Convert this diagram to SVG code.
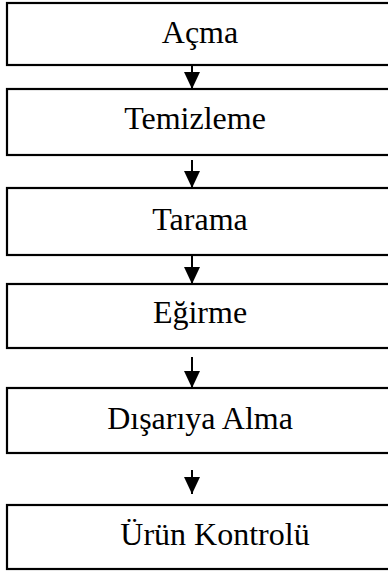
<svg xmlns="http://www.w3.org/2000/svg" width="388" height="574" viewBox="0 0 388 574">
<style>
.box{fill:#fff;stroke:#000;stroke-width:2.2}
.lbl{font-family:"Liberation Serif","Times New Roman",serif;font-size:32px;fill:#000;text-anchor:middle}
.conn{stroke:#000;stroke-width:2;fill:none}
</style>
<defs>
<marker id="ah" markerUnits="userSpaceOnUse" viewBox="0 0 17 16" refX="17" refY="8" markerWidth="17" markerHeight="16" orient="auto">
<path d="M0,0 L17,8 L0,16 z" fill="#000"/>
</marker>
</defs>
<rect width="388" height="574" fill="#fff"/>
<g id="n1"><rect class="box" x="7" y="3" width="390" height="62"/><text class="lbl" x="200" y="43">Açma</text></g>
<g id="n2"><rect class="box" x="7" y="89" width="390" height="66"/><text class="lbl" x="195" y="129">Temizleme</text></g>
<g id="n3"><rect class="box" x="7" y="188" width="390" height="67"/><text class="lbl" x="200" y="230">Tarama</text></g>
<g id="n4"><rect class="box" x="7" y="284" width="390" height="64"/><text class="lbl" x="200" y="323">Eğirme</text></g>
<g id="n5"><rect class="box" x="7" y="388" width="390" height="65"/><text class="lbl" x="200" y="429">Dışarıya Alma</text></g>
<g id="n6"><rect class="box" x="7" y="505" width="390" height="64"/><text class="lbl" x="215" y="545">Ürün Kontrolü</text></g>
<g id="connectors">
<line class="conn" x1="192" y1="65" x2="192" y2="89" marker-end="url(#ah)"/>
<line class="conn" x1="192" y1="160" x2="192" y2="188" marker-end="url(#ah)"/>
<line class="conn" x1="192" y1="255" x2="192" y2="284" marker-end="url(#ah)"/>
<line class="conn" x1="192" y1="357" x2="192" y2="388" marker-end="url(#ah)"/>
<line class="conn" x1="192" y1="470" x2="192" y2="494" marker-end="url(#ah)"/>
</g>
</svg>
